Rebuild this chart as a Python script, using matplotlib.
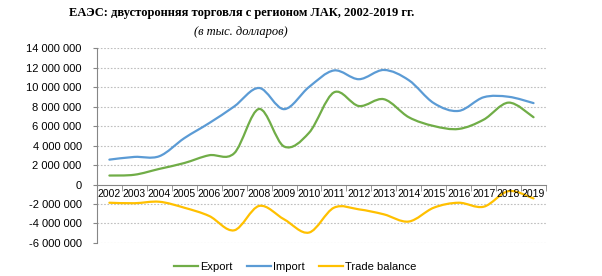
import matplotlib
matplotlib.use("Agg")
import matplotlib.pyplot as plt
from matplotlib.path import Path
from matplotlib.patches import PathPatch
from matplotlib.lines import Line2D
import numpy as np

years = [str(y) for y in range(2002, 2020)]

# values in millions of USD
export = [0.92, 1.0, 1.6, 2.2, 3.0, 3.2, 7.75, 3.9, 5.3, 9.45, 8.05, 8.75, 6.9, 6.0, 5.7, 6.65, 8.4, 6.9]
imports = [2.55, 2.83, 2.9, 4.75, 6.3, 8.0, 9.9, 7.73, 10.0, 11.7, 10.8, 11.75, 10.7, 8.35, 7.55, 8.95, 9.0, 8.35]
balance = [-1.87, -1.92, -1.77, -2.38, -3.23, -4.7, -2.2, -3.57, -4.93, -2.38, -2.55, -3.06, -3.8, -2.38, -1.87, -2.28, -0.68, -1.43]

yticks = [-6, -4, -2, 0, 2, 4, 6, 8, 10, 12, 14]
ytick_labels = ["-6 000 000", "-4 000 000", "-2 000 000", "0", "2 000 000", "4 000 000",
                "6 000 000", "8 000 000", "10 000 000", "12 000 000", "14 000 000"]

series = [("Export", export, "#70AD47"),
          ("Import", imports, "#5B9BD5"),
          ("Trade balance", balance, "#FFC000")]

plt.rcParams['font.family'] = ['Liberation Sans', 'DejaVu Sans']


def smooth_path(xs, ys):
    # Excel-like smoothed line: cubic bezier through the points
    pts = np.column_stack([xs, ys]).astype(float)
    n = len(pts)
    verts = [pts[0]]
    codes = [Path.MOVETO]
    for i in range(n - 1):
        p0 = pts[i - 1] if i > 0 else pts[i]
        p1 = pts[i]
        p2 = pts[i + 1]
        p3 = pts[i + 2] if i + 2 < n else pts[i + 1]
        c1 = p1 + (p2 - p0) / 6.0
        c2 = p2 - (p3 - p1) / 6.0
        verts += [c1, c2, p2]
        codes += [Path.CURVE4] * 3
    return Path(verts, codes)


fig = plt.figure(figsize=(6.02, 2.76), dpi=100)
ax = fig.add_axes([0.161, 0.1196, 0.746, 0.7064])

x = np.arange(len(years))
for name, vals, col in series:
    patch = PathPatch(smooth_path(x, vals), facecolor="none", edgecolor=col,
                      lw=1.6, capstyle="round", joinstyle="round")
    ax.add_patch(patch)

ax.set_xlim(-0.5, len(years) - 0.5)
ax.set_ylim(-6, 14)

for t in yticks:
    if t != 0:
        ax.axhline(t, color="#BFBFBF", lw=0.8, ls=(0, (1.5, 1.5)), zorder=0)

ax.set_yticks(yticks)
ax.set_yticklabels(ytick_labels)
ax.set_xticks(x)
ax.set_xticklabels(years)
ax.set_xticks(np.arange(-0.5, len(years)), minor=True)
ax.tick_params(axis="x", which="major", length=0, pad=3, labelsize=7.5)
ax.tick_params(axis="x", which="minor", length=4, color="#868686", direction="out")
ax.tick_params(axis="y", length=3, color="#868686", direction="out", pad=8, labelsize=8)

for s in ["top", "right"]:
    ax.spines[s].set_visible(False)
ax.spines["bottom"].set_position(("data", 0))
ax.spines["bottom"].set_color("#868686")
ax.spines["left"].set_color("#868686")

fig.text(0.402, 0.953, "ЕАЭС: двусторонняя торговля с регионом ЛАК, 2002-2019 гг.",
         ha="center", va="center", fontsize=9, fontweight="bold",
         family=["Liberation Serif", "DejaVu Serif"])
fig.text(0.40, 0.884, "(в тыс. долларов)", ha="center", va="center", fontsize=9,
         style="italic", family=["Liberation Serif", "DejaVu Serif"])

handles = [Line2D([], [], color=c, lw=1.6) for _, _, c in series]
fig.legend(handles, [n for n, _, _ in series], loc="center", bbox_to_anchor=(0.49, 0.033),
           ncol=3, frameon=False, fontsize=8, handlelength=2.2, handletextpad=0.15,
           columnspacing=1.3)

fig.savefig("out.png", dpi=100)
